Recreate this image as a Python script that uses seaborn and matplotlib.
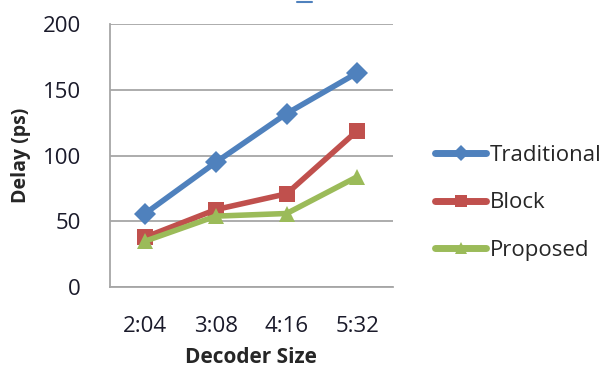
import matplotlib
matplotlib.use("Agg")
import matplotlib.pyplot as plt
from matplotlib.lines import Line2D
import seaborn as sns
import pandas as pd

sizes = ["2:04", "3:08", "4:16", "5:32"]
traditional = [56, 95, 132, 163]
block = [38, 59, 71, 119]
proposed = [35, 54, 56, 84]

series_names = ["Traditional", "Block", "Proposed"]
colors = ["#4F81BD", "#C0504D", "#9BBB59"]
markers = ["D", "s", "^"]

df = pd.DataFrame({
    "Decoder Size": sizes * 3,
    "Delay": traditional + block + proposed,
    "Series": [n for n in series_names for _ in sizes],
})

sns.set_style("white")
plt.rcParams["font.family"] = ["Open Sans", "DejaVu Sans"]

fig = plt.figure(figsize=(6.07, 3.71), dpi=100)
ax = fig.add_axes([0.181, 0.226, 0.466, 0.709])

sns.lineplot(
    data=df, x="Decoder Size", y="Delay", hue="Series", style="Series",
    hue_order=series_names, style_order=series_names,
    palette=colors, markers=markers, dashes=False,
    linewidth=4, markersize=11, markeredgewidth=0, ax=ax, sort=False,
)

ax.set_ylim(0, 200)
ax.set_yticks([0, 50, 100, 150, 200])
ax.set_xlim(-0.5, 3.5)
ax.yaxis.grid(True, color="#a6a6a6", linewidth=1.3)
ax.set_axisbelow(True)

# category boundary ticks on the x axis
ax.set_xticks([0, 1, 2, 3])
ax.set_xticks([-0.5, 0.5, 1.5, 2.5, 3.5], minor=True)
ax.tick_params(axis="x", which="major", length=0, pad=21, labelsize=16, labelcolor="#1a1a2a")
ax.tick_params(axis="x", which="minor", length=7, width=1.3, color="#a6a6a6", direction="out")
ax.tick_params(axis="y", length=7, width=1.3, color="#a6a6a6", direction="out",
               labelsize=16, labelcolor="#1a1a2a", pad=14)

for side in ["top", "right"]:
    ax.spines[side].set_visible(False)
for side in ["left", "bottom"]:
    ax.spines[side].set_color("#a6a6a6")
    ax.spines[side].set_linewidth(1.3)

ax.set_xlabel("Decoder Size", fontsize=15, fontweight="bold", labelpad=7)
ax.set_ylabel("Delay (ps)", fontsize=14, fontweight="bold", labelpad=8)

leg = ax.legend(
    title=None, loc="center left", bbox_to_anchor=(1.11, 0.32),
    frameon=False, fontsize=16, handlelength=2.3, handletextpad=0.15,
    labelspacing=1.2, borderpad=0,
)
for h in leg.legend_handles:
    h.set_markersize(8)
    h.set_linewidth(5)

# stray title fragment at the top edge
fig.add_artist(Line2D([297 / 607, 312 / 607], [1 - 2 / 371, 1 - 2 / 371],
                      color="#4F81BD", linewidth=1.5, transform=fig.transFigure))

fig.savefig("out.png", dpi=100, facecolor="white")
